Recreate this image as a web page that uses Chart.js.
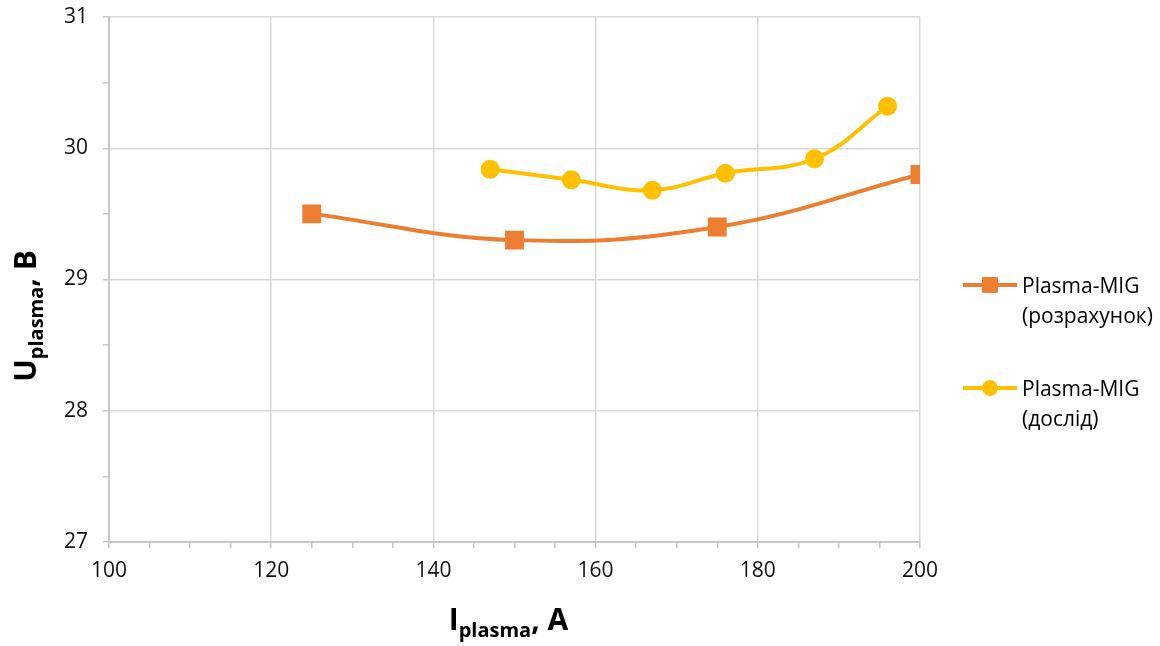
<!DOCTYPE html>
<html>
<head>
<meta charset="utf-8">
<script src="https://cdn.jsdelivr.net/npm/chart.js@4.4.1/dist/chart.umd.min.js"></script>
<style>
  body { margin: 0; background: #fff; }
  #wrap { width: 1160px; height: 646px; }
</style>
</head>
<body>
<div id="wrap"><canvas id="myChart" width="1160" height="646"></canvas></div>
<script>
// computed curve (розрахунок)
const calcCurrent = [125, 150, 175, 200];
const calcVoltage = [29.5, 29.3, 29.4, 29.8];
// experiment (дослід)
const expCurrent = [147, 157, 167, 176, 187, 196];
const expVoltage = [29.84, 29.76, 29.68, 29.81, 29.92, 30.32];

const seriesNames = [["Plasma-MIG", "(розрахунок)"], ["Plasma-MIG", "(дослід)"]];
const xTitle = ["I", "plasma", ", A"];
const yTitle = ["U", "plasma", ", B"];

const FONT = "'Open Sans', sans-serif";

function toPoints(xs, ys) {
  return xs.map((x, i) => ({ x: x, y: ys[i] }));
}

// draws "Main" + subscript + tail, centred on (cx, baseline)
function drawSubTitle(ctx, parts, cx, baseY, rotate) {
  ctx.save();
  ctx.fillStyle = "#000";
  ctx.textBaseline = "alphabetic";
  const big = "bold 30px " + FONT;
  const small = "bold 20px " + FONT;
  ctx.font = big;
  const w1 = ctx.measureText(parts[0]).width;
  const w3 = ctx.measureText(parts[2]).width;
  ctx.font = small;
  const w2 = ctx.measureText(parts[1]).width;
  const total = w1 + w2 + w3;
  ctx.translate(cx, baseY);
  if (rotate) ctx.rotate(-Math.PI / 2);
  let x = -total / 2;
  ctx.font = big;
  ctx.fillText(parts[0], x, 0);
  x += w1;
  ctx.font = small;
  ctx.fillText(parts[1], x, 7);
  x += w2;
  ctx.font = big;
  ctx.fillText(parts[2], x, 0);
  ctx.restore();
}

const extrasPlugin = {
  id: "extras",
  afterDraw(chart) {
    const ctx = chart.ctx;
    const area = chart.chartArea;
    // axis titles
    drawSubTitle(ctx, xTitle, (area.left + area.right) / 2 - 6, 630, false);
    drawSubTitle(ctx, yTitle, 36, 316, true);

    // legend on the right
    const rows = [285, 388];
    chart.data.datasets.forEach((ds, i) => {
      const y = rows[i];
      ctx.save();
      ctx.strokeStyle = ds.borderColor;
      ctx.lineWidth = ds.borderWidth;
      ctx.beginPath();
      ctx.moveTo(963, y);
      ctx.lineTo(1017, y);
      ctx.stroke();
      ctx.fillStyle = ds.pointBackgroundColor;
      ctx.strokeStyle = ds.pointBorderColor;
      ctx.lineWidth = 1;
      Chart.helpers.drawPoint(ctx, {
        pointStyle: ds.pointStyle,
        radius: ds.pointRadius,
        borderWidth: 1,
        rotation: 0
      }, 990, y);
      ctx.fillStyle = "#000";
      ctx.font = "21px " + FONT;
      ctx.textBaseline = "alphabetic";
      seriesNames[i].forEach((line, k) => {
        ctx.fillText(line, 1022, y + 8 + k * 30);
      });
      ctx.restore();
    });
  }
};

document.addEventListener("DOMContentLoaded", function () {
  const ctx = document.getElementById("myChart").getContext("2d");
  const config = {
    type: "line",
    data: {
      datasets: [
        {
          label: seriesNames[0].join(" "),
          data: toPoints(calcCurrent, calcVoltage),
          borderColor: "#ED7D31",
          backgroundColor: "#ED7D31",
          pointBackgroundColor: "#ED7D31",
          pointBorderColor: "#ED7D31",
          pointStyle: "rect",
          pointRadius: 10.5,
          borderWidth: 4,
          tension: 0.4,
          fill: false,
        },
        {
          label: seriesNames[1].join(" "),
          data: toPoints(expCurrent, expVoltage),
          borderColor: "#FFC000",
          backgroundColor: "#FFC000",
          pointBackgroundColor: "#FFC000",
          pointBorderColor: "#FFC000",
          pointStyle: "circle",
          pointRadius: 7.5,
          borderWidth: 4,
          tension: 0.4,
          fill: false,
        },
      ],
    },
    options: {
      responsive: false,
      animation: false,
      layout: { padding: { left: 0, top: 17, right: 240, bottom: 0 } },
      plugins: {
        legend: { display: false },
        tooltip: { enabled: false },
      },
      scales: {
        x: {
          type: "linear",
          min: 100,
          max: 200,
          afterFit: (s) => {
            s.height = 104;
            s.paddingLeft = 0;
            s.paddingRight = 0;
          },
          border: { color: "#c8c8c8", width: 2 },
          grid: {
            color: (c) => (c.tick && c.tick.value % 20 === 0 ? "#d9d9d9" : "rgba(0,0,0,0)"),
            tickColor: "#c8c8c8",
            tickLength: 6,
            lineWidth: 1.5,
          },
          ticks: {
            stepSize: 5,
            autoSkip: false,
            maxRotation: 0,
            padding: 10,
            color: "#111",
            font: { family: FONT, size: 21 },
            callback: (v) => (v % 20 === 0 ? v : ""),
          },
        },
        y: {
          min: 27,
          max: 31,
          afterFit: (s) => {
            s.width = 109;
            s.paddingTop = 0;
            s.paddingBottom = 0;
          },
          border: { color: "#c8c8c8", width: 2 },
          grid: {
            color: (c) => (c.tick && c.tick.value % 1 === 0 ? "#d9d9d9" : "rgba(0,0,0,0)"),
            tickColor: "#c8c8c8",
            tickLength: 6,
            lineWidth: 1.5,
          },
          ticks: {
            stepSize: 0.5,
            autoSkip: false,
            padding: 15,
            color: "#111",
            font: { family: FONT, size: 21 },
            callback: (v) => (v % 1 === 0 ? v : ""),
          },
        },
      },
    },
    plugins: [extrasPlugin],
  };

  const chart = new Chart(ctx, config);
});
</script>
</body>
</html>
